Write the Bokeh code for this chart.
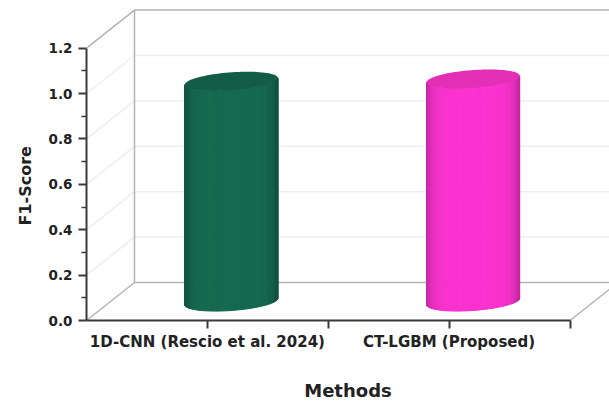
import numpy as np
from bokeh.embed import file_html
from bokeh.models import FixedTicker, Range1d, Title
from bokeh.plotting import figure
from bokeh.resources import INLINE

methods = ["1D-CNN (Rescio et al. 2024)", "CT-LGBM (Proposed)"]
f1_scores = [0.97, 0.98]
body_colors = [(22, 106, 80), (252, 51, 208)]
top_colors = ["#135c45", "#e22fb5"]
y_ticks = [0.0, 0.2, 0.4, 0.6, 0.8, 1.0, 1.2]
y_minor_ticks = [0.1, 0.3, 0.5, 0.7, 0.9, 1.1]

WIDTH, HEIGHT = 609, 403
LEFT, BOTTOM = 86, 83
X_UNIT = 241.75     # pixels per category
Y_UNIT = 227.0      # pixels per unit of F1-score
DEPTH_X = 48 / X_UNIT
DEPTH_Y = 38 / Y_UNIT
X_MAX = (WIDTH - LEFT) / X_UNIT
Y_MAX = (HEIGHT - BOTTOM) / Y_UNIT

p = figure(width=WIDTH, height=HEIGHT, output_backend="svg", toolbar_location=None,
           x_range=Range1d(0, X_MAX), y_range=Range1d(0, Y_MAX),
           min_border_left=LEFT, min_border_right=0, min_border_top=0, min_border_bottom=BOTTOM,
           background_fill_color="white", border_fill_color="white")
p.outline_line_color = None
p.grid.visible = False

# Floor and walls of the 3D box
GRID_SOFT, GRID_EDGE = "#eeeeee", "#b4b4b4"
for tick in y_ticks[1:-1]:
    p.line([0, DEPTH_X, X_MAX + DEPTH_X], [tick, tick + DEPTH_Y, tick + DEPTH_Y],
           line_color=GRID_SOFT, line_width=1.5)
for tick in (y_ticks[0], y_ticks[-1]):
    p.line([0, DEPTH_X, X_MAX + DEPTH_X], [tick, tick + DEPTH_Y, tick + DEPTH_Y],
           line_color=GRID_EDGE, line_width=1.5)
p.line([DEPTH_X, DEPTH_X], [DEPTH_Y, y_ticks[-1] + DEPTH_Y], line_color=GRID_EDGE, line_width=1.5)
p.line([2, 2 + DEPTH_X], [0, DEPTH_Y], line_color=GRID_EDGE, line_width=1.5)


def ellipse_point(cx, cy, t):
    """Point of the tilted elliptical cross-section of a cylinder, t in radians."""
    half_w, half_h, tilt = 46.5, 9.0, 3.3
    return (cx + half_w * np.cos(t) / X_UNIT,
            cy + (half_h * np.sin(t) + tilt * np.cos(t)) / Y_UNIT)


def shade(color, t):
    """Darken a colour toward the silhouette of the cylinder."""
    edge = abs(np.cos(t)) ** 6
    return "#%02x%02x%02x" % tuple(int(c * (1 - 0.22 * edge)) for c in color)


# Cylinders stand in the middle of the box depth
for i, score in enumerate(f1_scores):
    cx = i + 0.5 + DEPTH_X / 2
    base = DEPTH_Y / 2
    ts = np.linspace(np.pi, 2 * np.pi, 61)
    strips_x, strips_y, strips_c = [], [], []
    for t0, t1 in zip(ts[:-1], ts[1:]):
        x0, y0 = ellipse_point(cx, base, t0)
        x1, y1 = ellipse_point(cx, base, t1)
        strips_x.append([x0, x1, x1, x0])
        strips_y.append([y0, y1, y1 + score, y0 + score])
        strips_c.append(shade(body_colors[i], (t0 + t1) / 2))
    p.patches(strips_x, strips_y, fill_color=strips_c, line_color=strips_c, line_width=1)
    top_x, top_y = ellipse_point(cx, base + score, np.linspace(0, 2 * np.pi, 90))
    p.patch(top_x, top_y, fill_color=top_colors[i], line_color=None)

# Axes
FONT = "DejaVu Sans"
TEXT = "#222222"
AXIS = "#3a3a3a"
yaxis = p.yaxis[0]
yaxis.ticker = FixedTicker(ticks=y_ticks, minor_ticks=y_minor_ticks)
yaxis.major_label_overrides = {tick: f"{tick:.1f}" for tick in y_ticks}
yaxis.bounds = (0, 1.2)
xaxis = p.xaxis[0]
xaxis.ticker = FixedTicker(ticks=[0.5, 1, 1.5, 2])
xaxis.major_label_overrides = {0.5: methods[0], 1: "", 1.5: methods[1], 2: ""}
xaxis.bounds = (0, 2)
xaxis.axis_label = "Methods"
xaxis.minor_tick_line_color = None
for axis in (xaxis, yaxis):
    axis.axis_line_color = AXIS
    axis.axis_line_width = 2
    axis.major_tick_line_color = AXIS
    axis.major_tick_line_width = 2
    axis.major_tick_in = 0
    axis.major_tick_out = 8
    axis.major_label_text_font = FONT
    axis.major_label_text_font_style = "bold"
    axis.major_label_text_color = TEXT
    axis.axis_label_text_font = FONT
    axis.axis_label_text_font_style = "bold"
    axis.axis_label_text_color = TEXT
yaxis.minor_tick_line_color = AXIS
yaxis.minor_tick_line_width = 1.5
yaxis.minor_tick_in = 0
yaxis.minor_tick_out = 5
yaxis.major_label_text_font_size = "13.5px"
yaxis.major_label_standoff = 6
xaxis.major_label_text_font_size = "15px"
xaxis.major_label_standoff = 4
xaxis.axis_label_text_font_size = "18px"
xaxis.axis_label_standoff = 26

# Scale title, started from the frame's lower edge so it centres on the scale
p.add_layout(Title(text="F1-Score", align="left", offset=95, standoff=21,
                   text_font=FONT, text_font_style="bold",
                   text_font_size="16px", text_color=TEXT), "left")

open("out.html", "w").write(file_html(p, INLINE))
